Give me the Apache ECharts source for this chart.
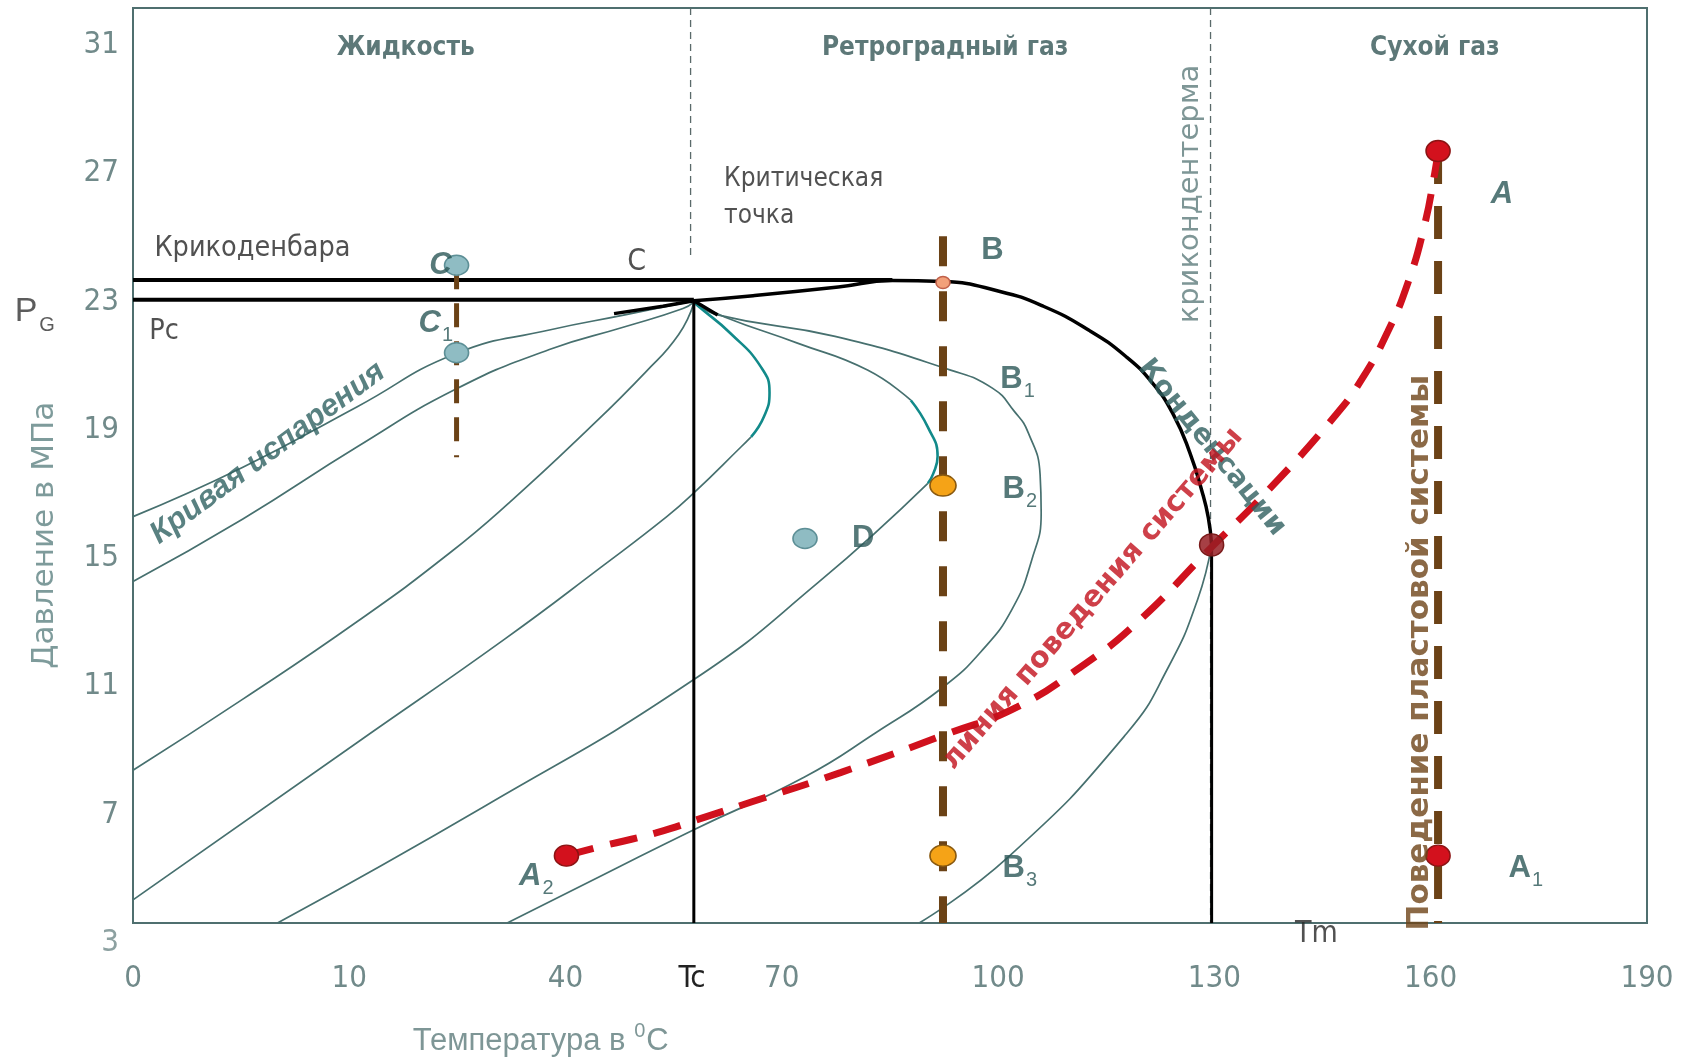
<!DOCTYPE html>
<html>
<head>
<meta charset="utf-8">
<script src="https://cdn.jsdelivr.net/npm/echarts@6/dist/echarts.min.js"></script>
<style>
    html, body { margin: 0; padding: 0; background: #fff; }
    #chart { width: 1692px; height: 1062px; }
</style>
</head>
<body>
<div id="chart"></div>
<script>
// x axis is drawn in "tick slot" units: slot i sits under label xTickNames[i]
var xTickValues = [0, 1, 2, 2.585, 3, 4, 5, 6, 7];
var xTickNames = ['0', '10', '40', 'Tc', '70', '100', '130', '160', '190'];
var yTickValues = [7, 11, 15, 19, 23, 27, 31];
var yExtraTick = [['3', 0, 3]];

// thin quality curves
var bubbleUpper = [[0, 16.29], [0.508, 17.83], [1.037, 19.72], [1.491, 21.37], [1.925, 22.11], [2.274, 22.58], [2.543, 22.95], [2.593, 23.02]];
var bubbleLower = [[0, 14.27], [0.508, 16.22], [1.037, 18.47], [1.491, 20.26], [1.925, 21.50], [2.274, 22.21], [2.543, 22.78], [2.593, 22.98]];
var curveC = [[0, 8.38], [0.508, 10.60], [1.037, 13.02], [1.461, 15.14], [1.745, 16.76], [2.099, 18.98], [2.369, 20.79], [2.523, 21.97], [2.593, 22.95]];
var curveD = [[0, 4.34], [1.037, 9.25], [1.720, 12.48], [2.169, 14.74], [2.468, 16.29], [2.593, 17.03], [2.812, 18.47], [2.858, 18.78]];
var curveDTeal = [[2.858, 18.78], [2.918, 19.42], [2.943, 20.16], [2.903, 20.96], [2.762, 22.01], [2.614, 22.85], [2.593, 22.98]];
var curveE = [[0.668, 3.62], [1.620, 7.24], [2.593, 11.21], [3.167, 14.23], [3.675, 17.33]];
var curveETeal = [[3.675, 17.33], [3.700, 17.63], [3.720, 18.17], [3.675, 19.08], [3.596, 19.92]];
var curveETop = [[3.596, 19.92], [3.396, 20.86], [3.072, 21.70], [2.738, 22.51], [2.593, 22.98]];
var curveB1 = [[1.730, 3.62], [2.168, 5.10], [2.593, 6.53], [3.107, 8.18], [3.436, 9.56], [3.745, 10.97], [3.930, 12.15], [4.064, 13.40], [4.154, 14.91], [4.199, 16.42], [4.194, 17.60], [4.139, 18.91], [4.074, 19.58], [3.975, 20.29], [3.780, 20.86], [3.246, 21.91], [2.703, 22.58], [2.593, 22.98]];
var curveB3 = [[3.635, 3.62], [4.049, 5.69], [4.593, 9.52], [4.788, 11.61], [4.922, 13.70], [4.987, 15.41]];

// black phase envelope and reference lines
var dewCurve = [[2.593, 23.02], [2.867, 23.18], [3.261, 23.45], [3.511, 23.65], [3.745, 23.62], [4.004, 23.32], [4.209, 22.85], [4.418, 22.11], [4.588, 21.30], [4.713, 20.46], [4.812, 19.45], [4.887, 18.27], [4.942, 17.09], [4.972, 16.25], [4.987, 15.41]];
var bubbleBlack = [[2.224, 22.62], [2.45, 22.85], [2.593, 23.02], [2.703, 22.58]];
var pgLine = [[0, 23.67], [3.511, 23.67]];
var pcLine = [[0, 23.05], [2.593, 23.05]];
var tcLine = [[2.593, 23.05], [2.593, 3.62]];
var tmLine = [[4.987, 15.41], [4.987, 3.62]];
var tcGuide = [[2.578, 32.15], [2.578, 24.39]];
var thermGuide = [[4.982, 32.15], [4.982, 3.62]];

// process paths
var pathC = [[1.496, 24.13], [1.496, 18.14]];
var pathB = [[3.745, 25.03], [3.745, 3.62]];
var pathA = [[6.034, 27.69], [6.034, 3.62]];
var systemLine = [[2.004, 5.72], [2.154, 5.99], [2.418, 6.43], [2.648, 6.93], [2.862, 7.40], [3.271, 8.31], [3.765, 9.52], [4.089, 10.36], [4.389, 11.64], [4.638, 12.96], [4.987, 15.34], [5.251, 17.13], [5.556, 19.42], [5.680, 20.56], [5.800, 22.04], [5.895, 23.59], [5.970, 25.34], [6.019, 27.02], [6.034, 27.69]];

// state points
var bluePoints = [[1.496, 24.13], [1.496, 21.40], [3.107, 15.61]];
var orangePoints = [[3.745, 17.26], [3.745, 5.72]];
var pointB = [[3.745, 23.59]];
var redPoints = [[6.034, 27.69], [6.034, 5.72], [2.004, 5.72]];
var crossPoint = [[4.987, 15.41]];

// texts: [text, x, y]
var pointLabels = [['{i|C}', 1.421, 24.13], ['{i|C}{s|1}', 1.40, 22.31], ['D', 3.376, 15.61], ['B', 3.974, 24.60],
    ['B{s|1}', 4.09, 20.56], ['B{s|2}', 4.10, 17.13], ['B{s|3}', 4.10, 5.32], ['{i|A}', 6.329, 26.35],
    ['A{s|1}', 6.44, 5.32], ['{i|A}{s|2}', 1.865, 5.08]];
var regionTitles = [['Жидкость', 1.261, 30.89], ['Ретроградный газ', 3.755, 30.89], ['Сухой газ', 6.019, 30.89]];
var criticalNotes = [['Критическая', 2.733, 26.82], ['точка', 2.733, 25.67]];
var barNotes = [['Крикоденбара', 0.099, 24.66], ['Pc', 0.075, 22.07]];
var centerNotes = [['C', 2.329, 24.23], ['Tm', 5.471, 3.27]];
var pgLabel = [['{p|P}{g|G}', -0.454, 22.68]];
var evapLabel = [['Кривая испарения', 0.623, 18.27]];
var condLabel = [['Конденсации', 4.987, 18.44]];
var systemLabel = [['линия поведения системы', 4.438, 13.73]];
var reservoirLabel = [['Поведение пластовой системы', 5.949, 12.05]];
var thermLabel = [['крикондентерма', 4.887, 26.35]];
var yTitle = [['Давление в МПа', -0.409, 15.71]];
var xTitle = [['Температура в {sup|0}C', 1.885, -0.06]];

var GRAY = '#47706f', TEAL = '#128a8a', BROWN = '#6b4216', RED = '#d0111d', INK = '#2c5858', TICK = '#718a8a';
var NARROW = "'Liberation Sans Narrow','DejaVu Sans Condensed',sans-serif";
var SANS = "'Liberation Sans',Arial,sans-serif";
var DEJA = "'DejaVu Sans',sans-serif";

function $(fn) { document.readyState === 'loading' ? document.addEventListener('DOMContentLoaded', fn) : fn(); }
$(function () {
    chart1();
});

function line(data, color, width, dash, z, smooth) {
    return {
        type: 'line', data: data, symbol: 'none', silent: true, z: z || 2,
        smooth: smooth || false,
        lineStyle: { color: color, width: width, type: dash || 'solid', cap: 'butt' }
    };
}
function dots(data, fill, border, size, z) {
    return {
        type: 'scatter', data: data, silent: true, z: z || 10,
        symbol: 'circle', symbolSize: size,
        itemStyle: { color: fill, borderColor: border, borderWidth: 1.5, opacity: 1 }
    };
}
function texts(rows, style, rotate, align) {
    return {
        type: 'scatter', silent: true, clip: false, z: 20, symbolSize: 1,
        itemStyle: { color: 'rgba(0,0,0,0)' },
        data: rows.map(function (r) { return { value: [r[1], r[2]], name: r[0] }; }),
        label: Object.assign({
            show: true, position: 'inside', rotate: rotate || 0,
            align: align || 'center', verticalAlign: 'middle',
            formatter: function (p) { return p.name; }
        }, style)
    };
}

function chart1() {
    var myChart = echarts.init(document.getElementById('chart'));
    var sub = { fontSize: 20, fontWeight: 'normal', fontStyle: 'normal', padding: [24, 0, 0, 1] };
    option = {
        animation: false,
        grid: { left: 133, right: 45, top: 8, bottom: 139, show: true, borderColor: '#4f6f6f', borderWidth: 2, backgroundColor: '#fff' },
        xAxis: {
            type: 'value', min: 0, max: 7,
            axisLine: { show: false }, axisTick: { show: false }, splitLine: { show: false },
            axisLabel: {
                customValues: xTickValues, margin: 40,
                color: TICK, fontFamily: NARROW, fontSize: 31,
                formatter: function (v) {
                    var i = xTickValues.indexOf(v);
                    var s = i < 0 ? '' : xTickNames[i];
                    return s === 'Tc' ? '{tc|Tc}' : s;
                },
                rich: { tc: { color: '#222', fontFamily: NARROW, fontSize: 31 } }
            }
        },
        yAxis: {
            type: 'value', min: 3.62, max: 32.15,
            axisLine: { show: false }, axisTick: { show: false }, splitLine: { show: false },
            axisLabel: { customValues: yTickValues, margin: 14, color: TICK, fontFamily: NARROW, fontSize: 31 }
        },
        series: [
            line(tcGuide, '#5a6a6a', 1.3, [7, 5], 1),
            line(thermGuide, '#5a6a6a', 1.3, [7, 5], 1),
            line(bubbleUpper, GRAY, 1.7, null, 2, 0.5),
            line(bubbleLower, GRAY, 1.7, null, 2, 0.5),
            line(curveC, GRAY, 1.7, null, 2, 0.5),
            line(curveD, GRAY, 1.7, null, 2, 0.5),
            line(curveDTeal, TEAL, 2.6, null, 3, 0.5),
            line(curveE, GRAY, 1.7, null, 2, 0.5),
            line(curveETeal, TEAL, 2.6, null, 3, 0.5),
            line(curveETop, GRAY, 1.7, null, 2, 0.5),
            line(curveB1, GRAY, 1.7, null, 2, 0.5),
            line(curveB3, GRAY, 1.7, null, 2, 0.5),
            line(pgLine, '#000', 4, null, 4),
            line(pcLine, '#000', 4, null, 4),
            line(tcLine, '#000', 3, null, 4),
            line(tmLine, '#000', 3, null, 4),
            line(dewCurve, '#000', 3.5, null, 4, 0.5),
            line(bubbleBlack, '#000', 3.5, null, 4),
            line(pathC, BROWN, 5, [24, 14], 5),
            line(pathB, BROWN, 8, [30, 25], 5),
            line(pathA, BROWN, 8, [33, 22], 5),
            line(systemLine, RED, 7, [28, 17], 6, 0.5),
            dots(bluePoints, '#8fbcc3', '#5d8f96', [24, 20]),
            dots(orangePoints, '#f5a317', '#8a5a10', [26, 21]),
            dots(pointB, '#f2a07a', '#c0604a', [14, 12]),
            dots(redPoints, '#d3111d', '#8c1414', [24, 21]),
            dots(crossPoint, 'rgba(150,30,36,0.85)', '#7a1a1a', [24, 22]),
            texts(yExtraTick, { color: TICK, fontFamily: NARROW, fontSize: 31, offset: [-14, 0] }, 0, 'right'),
            texts(pointLabels, {
                color: INK, fontFamily: SANS, fontWeight: 'bold', fontSize: 31,
                rich: { i: { fontStyle: 'italic', fontWeight: 'bold', fontSize: 31, color: INK, fontFamily: SANS }, s: Object.assign({ color: INK, fontFamily: SANS }, sub) }
            }),
            texts(regionTitles, { color: '#355656', fontFamily: NARROW, fontWeight: 'bold', fontSize: 26 }),
            texts(criticalNotes, { color: '#262626', fontFamily: NARROW, fontSize: 26 }, 0, 'left'),
            texts(barNotes, { color: '#262626', fontFamily: NARROW, fontSize: 28.5 }, 0, 'left'),
            texts(centerNotes, { color: '#262626', fontFamily: NARROW, fontSize: 30 }),
            texts(pgLabel, {
                rich: {
                    p: { color: '#333', fontFamily: SANS, fontSize: 34 },
                    g: { color: '#333', fontFamily: SANS, fontSize: 20, padding: [28, 0, 0, 2] }
                }
            }),
            texts(evapLabel, { color: '#2f6262', fontFamily: SANS, fontWeight: 'bold', fontStyle: 'italic', fontSize: 31 }, 36.6),
            texts(condLabel, { color: '#2f5f5f', fontFamily: DEJA, fontWeight: 'bold', fontSize: 28 }, -51),
            texts(systemLabel, { color: '#c2101b', fontFamily: DEJA, fontWeight: 'bold', fontSize: 29 }, 49),
            texts(reservoirLabel, { color: '#6e4418', fontFamily: DEJA, fontWeight: 'bold', fontSize: 31 }, 90),
            texts(thermLabel, { color: '#5e7c7c', fontFamily: DEJA, fontSize: 29 }, 90),
            texts(yTitle, { color: '#5e8282', fontFamily: DEJA, fontSize: 31 }, 90),
            texts(xTitle, {
                color: '#5e7c7c', fontFamily: SANS, fontSize: 31,
                rich: { sup: { color: '#5e7c7c', fontFamily: SANS, fontSize: 20, padding: [0, 1, 20, 0] } }
            })
        ]
    };
    myChart.setOption(option);
}
</script>
</body>
</html>
